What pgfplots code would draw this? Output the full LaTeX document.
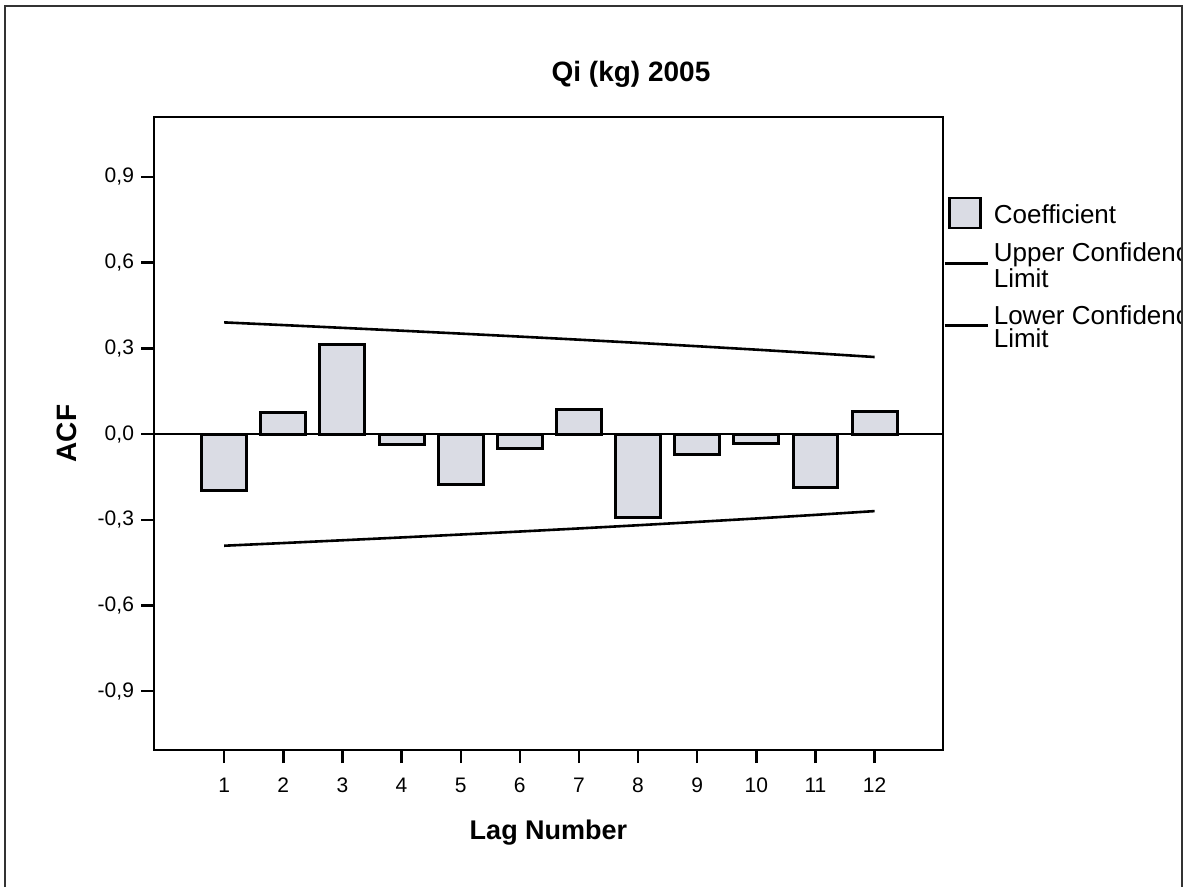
\documentclass[border=0pt]{standalone}
\usepackage{pgfplots}
\pgfplotsset{compat=1.18}
\usepackage{fontspec}
\setmainfont{Liberation Sans}
\definecolor{barfill}{RGB}{218,220,228}
\begin{document}
\begin{tikzpicture}
\useasboundingbox (0pt,0pt) rectangle (593pt,443.5pt);
\coordinate (O) at (77pt,68.5pt);
\begin{scope}
\clip (0pt,0pt) rectangle (591pt,443.5pt);
\begin{axis}[
  at={(O)}, anchor=south west,
  scale only axis, width=394.5pt, height=316.5pt,
  xmin=-0.187, xmax=13.157, ymin=-1.106, ymax=1.11,
  axis line style={line width=1.3pt},
  tick style={line width=1.2pt, black},
  tick align=outside, major tick length=6.5pt,
  xtick pos=bottom, ytick pos=left,
  xtick={1,2,3,4,5,6,7,8,9,10,11,12},
  xticklabels={1,2,3,4,5,6,7,8,9,10,11,12},
  ytick={-0.9,-0.6,-0.3,0,0.3,0.6,0.9},
  yticklabels={{-0,9},{-0,6},{-0,3},{0,0},{0,3},{0,6},{0,9}},
  ticklabel style={font=\fontsize{10.5}{12}\selectfont},
  xticklabel style={text height=7.6pt, text depth=0pt, yshift=-3.5pt},
  xlabel={Lag Number}, ylabel={ACF},
  xlabel style={at={(axis description cs:0.5,-0.131)}, anchor=center, font=\fontsize{13.5}{16}\selectfont\bfseries},
  ylabel style={at={(axis description cs:-0.1106,0.5)}, anchor=center, font=\fontsize{14}{16}\selectfont\bfseries},
  title={Qi (kg) 2005},
  title style={at={(axis description cs:0.6046,1.048)}, anchor=center, font=\fontsize{14}{16}\selectfont\bfseries},
  legend style={at={(axis description cs:1.0,0.875)}, anchor=north west, draw=none, fill=none,
    inner sep=0pt, row sep=3.8pt, column sep=0.5pt,
    font=\fontsize{13}{11.5}\selectfont,
    cells={align=left}},
  legend cell align=left,
]
\addplot[ybar, bar width=0.76, draw=black, line width=1.5pt, fill=barfill,
  area legend,
  legend image code/.code={\draw[line width=1.3pt, fill=barfill, draw=black] (2.5pt,-6pt) rectangle (18pt,9pt);}]
  coordinates {(1,-0.196) (2,0.074) (3,0.313) (4,-0.035) (5,-0.177) (6,-0.049)
               (7,0.085) (8,-0.292) (9,-0.070) (10,-0.033) (11,-0.187) (12,0.079)};
\addlegendentry{Coefficient}
\addplot[black, line width=1.3pt, mark=none,
  legend image code/.code={\draw[line width=1.2pt, black] (0pt,1.5pt) -- (21.5pt,1.5pt);}]
  coordinates {(1,0.3909) (2,0.3815) (3,0.3718) (4,0.3619) (5,0.3517) (6,0.3412)
               (7,0.3304) (8,0.3192) (9,0.3075) (10,0.2955) (11,0.2829) (12,0.2697)};
\addlegendentry{Upper Confidence\\Limit}
\addplot[black, line width=1.3pt, mark=none,
  legend image code/.code={\draw[line width=1.2pt, black] (0pt,1.5pt) -- (21.5pt,1.5pt);}]
  coordinates {(1,-0.3909) (2,-0.3815) (3,-0.3718) (4,-0.3619) (5,-0.3517) (6,-0.3412)
               (7,-0.3304) (8,-0.3192) (9,-0.3075) (10,-0.2955) (11,-0.2829) (12,-0.2697)};
\addlegendentry{Lower Confidence\\Limit}
\addplot[black, line width=1.2pt, mark=none, forget plot] coordinates {(-0.187,0) (13.157,0)};
\end{axis}
\end{scope}
\draw[line width=0.75pt, black!80] (2.5pt,0pt) -- (2.5pt,440.5pt) -- (591pt,440.5pt) -- (591pt,0pt);
\end{tikzpicture}
\end{document}
